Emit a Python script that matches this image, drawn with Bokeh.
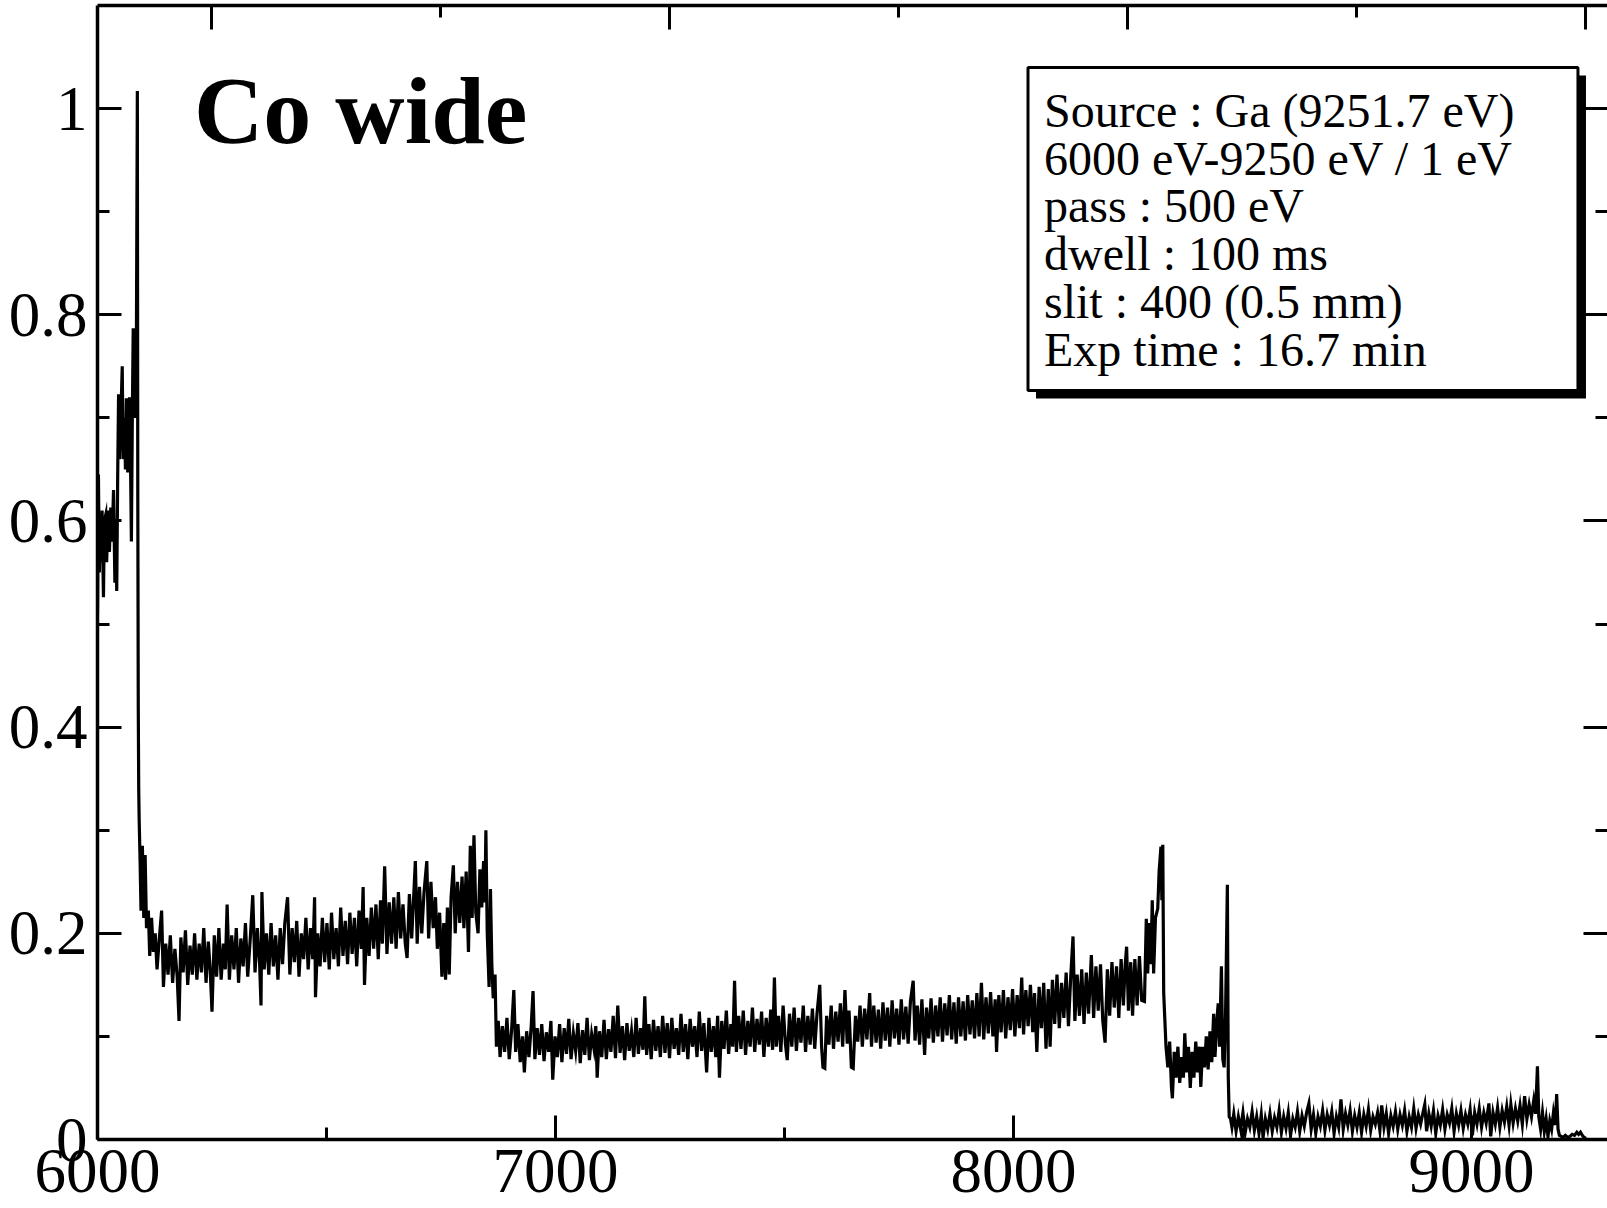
from bokeh.plotting import figure
from bokeh.models import (Range1d, FixedTicker, LinearAxis, BoxAnnotation, Label,
                          CustomJSTickFormatter, ColumnDataSource)
from bokeh.embed import file_html
from bokeh.resources import INLINE

FONT = "Liberation Serif"

# ---------------- data (energy eV, normalised intensity) ----------------
pre_edge = [(6000, 0.51), (6002, 0.645), (6004, 0.55), (6006, 0.60), (6008, 0.56), (6010, 0.61),
            (6013, 0.526), (6015, 0.60), (6018, 0.606), (6020, 0.56), (6023, 0.61), (6026, 0.57),
            (6029, 0.613), (6032, 0.58), (6035, 0.63), (6038, 0.54), (6040, 0.60), (6042, 0.532),
            (6044, 0.64), (6046, 0.723), (6048, 0.66), (6051, 0.70), (6054, 0.75), (6056, 0.66),
            (6059, 0.70), (6061, 0.65), (6063, 0.719), (6066, 0.647), (6068, 0.70), (6070, 0.72),
            (6072, 0.66), (6074, 0.58), (6076, 0.70), (6078, 0.787), (6080, 0.72), (6082, 0.70),
            (6085, 0.78), (6087, 1.017), (6088, 0.62), (6089, 0.42), (6090, 0.34), (6091, 0.31),
            (6093, 0.27), (6095, 0.222)]

band_6100_6870 = [(6098, 0.285), (6101, 0.215), (6104, 0.276), (6107, 0.205), (6111, 0.222),
                  (6114, 0.178), (6118, 0.215), (6122, 0.182), (6126, 0.20), (6130, 0.165),
                  (6135, 0.195), (6140, 0.222), (6144, 0.148), (6149, 0.19), (6154, 0.16),
                  (6159, 0.198), (6164, 0.152), (6169, 0.185), (6174, 0.158), (6178, 0.115),
                  (6182, 0.196), (6187, 0.162), (6192, 0.203), (6197, 0.15), (6202, 0.188),
                  (6207, 0.16), (6212, 0.20), (6217, 0.155), (6222, 0.19), (6227, 0.162),
                  (6232, 0.205), (6237, 0.152), (6242, 0.192), (6246, 0.165), (6250, 0.124),
                  (6255, 0.198), (6260, 0.158), (6265, 0.205), (6270, 0.155), (6275, 0.19),
                  (6279, 0.165), (6283, 0.228), (6288, 0.155), (6293, 0.198), (6298, 0.165),
                  (6303, 0.205), (6308, 0.152), (6313, 0.195), (6318, 0.168), (6323, 0.21),
                  (6328, 0.158), (6334, 0.198), (6339, 0.237), (6344, 0.162), (6349, 0.205),
                  (6354, 0.17), (6357, 0.13), (6359, 0.24), (6364, 0.165), (6369, 0.20),
                  (6374, 0.16), (6379, 0.21), (6384, 0.168), (6389, 0.198), (6394, 0.155),
                  (6399, 0.205), (6404, 0.17), (6409, 0.21), (6415, 0.235), (6420, 0.16),
                  (6425, 0.205), (6430, 0.172), (6435, 0.212), (6440, 0.158), (6445, 0.20),
                  (6450, 0.175), (6455, 0.215), (6460, 0.165), (6465, 0.205), (6470, 0.175),
                  (6474, 0.235), (6476, 0.138), (6481, 0.20), (6486, 0.168), (6491, 0.215),
                  (6496, 0.172), (6501, 0.21), (6506, 0.165), (6511, 0.22), (6516, 0.175),
                  (6521, 0.205), (6526, 0.168), (6531, 0.225), (6536, 0.178), (6541, 0.212),
                  (6546, 0.17), (6551, 0.22), (6556, 0.18), (6561, 0.215), (6566, 0.168),
                  (6571, 0.222), (6576, 0.185), (6580, 0.245), (6583, 0.15), (6588, 0.215),
                  (6593, 0.178), (6598, 0.225), (6603, 0.185), (6608, 0.228), (6613, 0.175),
                  (6618, 0.232), (6622, 0.19), (6627, 0.265), (6632, 0.18), (6637, 0.23),
                  (6642, 0.19), (6647, 0.235), (6652, 0.185), (6657, 0.24), (6662, 0.195),
                  (6667, 0.228), (6672, 0.19), (6676, 0.176), (6681, 0.238), (6686, 0.195),
                  (6690, 0.232), (6694, 0.27), (6698, 0.19), (6703, 0.245), (6708, 0.20),
                  (6713, 0.24), (6719, 0.27), (6723, 0.195), (6728, 0.25), (6733, 0.205),
                  (6738, 0.235), (6742, 0.185), (6747, 0.22), (6752, 0.158), (6756, 0.21),
                  (6760, 0.155), (6764, 0.225), (6768, 0.16), (6772, 0.235), (6777, 0.266),
                  (6781, 0.20), (6786, 0.25), (6791, 0.21), (6796, 0.255), (6800, 0.205),
                  (6805, 0.26), (6810, 0.182), (6814, 0.285), (6818, 0.215), (6822, 0.295),
                  (6826, 0.22), (6831, 0.20), (6835, 0.262), (6839, 0.225), (6843, 0.27),
                  (6846, 0.23), (6848, 0.30), (6851, 0.20), (6855, 0.148), (6858, 0.243),
                  (6861, 0.17), (6864, 0.137), (6868, 0.16), (6871, 0.09)]

band_6870_8335 = [(6875, 0.115), (6879, 0.08), (6884, 0.11), (6889, 0.085), (6894, 0.118),
                  (6899, 0.078), (6904, 0.105), (6909, 0.145), (6913, 0.085), (6918, 0.112),
                  (6923, 0.075), (6928, 0.10), (6932, 0.065), (6937, 0.105), (6942, 0.08),
                  (6947, 0.11), (6951, 0.144), (6955, 0.078), (6960, 0.108), (6965, 0.082),
                  (6970, 0.112), (6975, 0.076), (6980, 0.104), (6985, 0.085), (6990, 0.115),
                  (6994, 0.058), (6999, 0.10), (7004, 0.08), (7009, 0.112), (7014, 0.075),
                  (7019, 0.108), (7024, 0.083), (7029, 0.117), (7034, 0.078), (7039, 0.103),
                  (7044, 0.086), (7049, 0.113), (7054, 0.074), (7059, 0.106), (7064, 0.082),
                  (7069, 0.118), (7074, 0.077), (7079, 0.102), (7084, 0.088), (7088, 0.11),
                  (7091, 0.06), (7096, 0.105), (7101, 0.08), (7106, 0.116), (7111, 0.078),
                  (7116, 0.107), (7121, 0.085), (7126, 0.12), (7131, 0.079), (7136, 0.13),
                  (7141, 0.084), (7146, 0.11), (7151, 0.077), (7156, 0.113), (7161, 0.086),
                  (7166, 0.105), (7171, 0.08), (7176, 0.118), (7181, 0.083), (7186, 0.108),
                  (7191, 0.087), (7195, 0.139), (7199, 0.082), (7204, 0.112), (7209, 0.078),
                  (7214, 0.116), (7219, 0.086), (7224, 0.11), (7229, 0.08), (7234, 0.12),
                  (7239, 0.084), (7244, 0.113), (7249, 0.079), (7254, 0.118), (7259, 0.088),
                  (7264, 0.108), (7269, 0.082), (7274, 0.122), (7279, 0.085), (7284, 0.112),
                  (7289, 0.078), (7294, 0.117), (7299, 0.09), (7304, 0.11), (7309, 0.08),
                  (7314, 0.124), (7319, 0.086), (7324, 0.113), (7330, 0.065), (7335, 0.118),
                  (7340, 0.085), (7345, 0.11), (7350, 0.08), (7354, 0.12), (7358, 0.06),
                  (7363, 0.115), (7368, 0.088), (7373, 0.125), (7378, 0.083), (7383, 0.112),
                  (7387, 0.09), (7391, 0.154), (7395, 0.085), (7400, 0.12), (7405, 0.088),
                  (7410, 0.125), (7415, 0.082), (7420, 0.115), (7425, 0.09), (7430, 0.128),
                  (7435, 0.085), (7440, 0.117), (7445, 0.092), (7450, 0.124), (7455, 0.08),
                  (7460, 0.118), (7465, 0.09), (7470, 0.126), (7474, 0.087), (7478, 0.157),
                  (7482, 0.09), (7487, 0.12), (7492, 0.085), (7497, 0.13), (7502, 0.093),
                  (7506, 0.077), (7511, 0.122), (7516, 0.09), (7521, 0.128), (7526, 0.086),
                  (7531, 0.118), (7536, 0.094), (7541, 0.13), (7546, 0.085), (7551, 0.12),
                  (7556, 0.092), (7561, 0.127), (7566, 0.088), (7571, 0.122), (7577, 0.15),
                  (7581, 0.09), (7584, 0.07), (7588, 0.069), (7592, 0.12), (7597, 0.092),
                  (7602, 0.13), (7607, 0.088), (7612, 0.124), (7617, 0.095), (7622, 0.132),
                  (7627, 0.09), (7632, 0.145), (7637, 0.093), (7641, 0.125), (7646, 0.07),
                  (7650, 0.069), (7655, 0.12), (7660, 0.095), (7665, 0.13), (7670, 0.09),
                  (7675, 0.127), (7680, 0.097), (7686, 0.142), (7690, 0.09), (7695, 0.13),
                  (7700, 0.094), (7705, 0.126), (7710, 0.088), (7715, 0.133), (7720, 0.096),
                  (7725, 0.128), (7730, 0.09), (7735, 0.135), (7740, 0.098), (7745, 0.127),
                  (7750, 0.092), (7755, 0.136), (7760, 0.097), (7765, 0.129), (7770, 0.093),
                  (7775, 0.134), (7781, 0.154), (7785, 0.096), (7790, 0.13), (7795, 0.092),
                  (7800, 0.136), (7806, 0.082), (7810, 0.128), (7815, 0.098), (7820, 0.137),
                  (7825, 0.094), (7830, 0.13), (7835, 0.10), (7840, 0.138), (7845, 0.095),
                  (7850, 0.132), (7855, 0.101), (7860, 0.14), (7865, 0.097), (7870, 0.133),
                  (7875, 0.093), (7880, 0.138), (7885, 0.10), (7890, 0.134), (7895, 0.096),
                  (7900, 0.14), (7905, 0.102), (7910, 0.135), (7915, 0.098), (7920, 0.142),
                  (7925, 0.10), (7930, 0.152), (7935, 0.097), (7940, 0.138), (7945, 0.103),
                  (7950, 0.143), (7955, 0.10), (7960, 0.136), (7963, 0.085), (7968, 0.14),
                  (7973, 0.104), (7978, 0.145), (7983, 0.098), (7988, 0.138), (7993, 0.106),
                  (7998, 0.146), (8003, 0.10), (8008, 0.14), (8013, 0.108), (8018, 0.157),
                  (8022, 0.102), (8027, 0.145), (8032, 0.11), (8037, 0.15), (8042, 0.104),
                  (8046, 0.142), (8051, 0.085), (8056, 0.148), (8061, 0.108), (8066, 0.152),
                  (8071, 0.088), (8076, 0.146), (8080, 0.09), (8085, 0.155), (8090, 0.112),
                  (8095, 0.16), (8100, 0.108), (8105, 0.152), (8110, 0.118), (8115, 0.162),
                  (8120, 0.11), (8125, 0.158), (8130, 0.197), (8134, 0.115), (8139, 0.16),
                  (8144, 0.12), (8149, 0.165), (8154, 0.112), (8159, 0.162), (8164, 0.122),
                  (8170, 0.179), (8175, 0.118), (8180, 0.168), (8185, 0.125), (8190, 0.17),
                  (8195, 0.115), (8200, 0.094), (8205, 0.165), (8210, 0.12), (8215, 0.172),
                  (8220, 0.128), (8225, 0.168), (8230, 0.118), (8235, 0.175), (8240, 0.13),
                  (8244, 0.17), (8247, 0.187), (8251, 0.125), (8256, 0.172), (8260, 0.12),
                  (8265, 0.175), (8270, 0.13), (8275, 0.178), (8280, 0.135), (8286, 0.134),
                  (8290, 0.214), (8293, 0.161), (8297, 0.21), (8300, 0.17), (8303, 0.232),
                  (8306, 0.161), (8310, 0.215), (8315, 0.224), (8318, 0.26), (8322, 0.284),
                  (8324, 0.232), (8326, 0.286), (8328, 0.142), (8333, 0.09)]

band_8335_8472 = [(8337, 0.07), (8341, 0.095), (8345, 0.05), (8347, 0.04), (8351, 0.085),
                  (8355, 0.06), (8359, 0.09), (8363, 0.055), (8367, 0.08), (8371, 0.06),
                  (8374, 0.103), (8378, 0.065), (8382, 0.09), (8386, 0.05), (8390, 0.085),
                  (8394, 0.06), (8398, 0.095), (8402, 0.065), (8406, 0.09), (8409, 0.051),
                  (8413, 0.09), (8417, 0.07), (8421, 0.10), (8425, 0.068), (8429, 0.105),
                  (8433, 0.075), (8437, 0.122), (8440, 0.08), (8444, 0.115), (8447, 0.132),
                  (8450, 0.09), (8454, 0.168), (8457, 0.078), (8460, 0.07), (8463, 0.12),
                  (8467, 0.247), (8469, 0.06), (8471, 0.022)]

band_8472_9192 = [(8474, 0.02), (8477, 0.012), (8481, 0.025), (8486, 0.008), (8491, 0.022),
                  (8496, 0.01), (8501, 0.026), (8506, 0.007), (8511, 0.02), (8516, 0.012),
                  (8521, 0.027), (8526, 0.009), (8531, 0.022), (8536, 0.006), (8541, 0.024),
                  (8545, 0.002), (8550, 0.02), (8555, 0.01), (8560, 0.025), (8565, 0.008),
                  (8570, 0.021), (8575, 0.012), (8580, 0.028), (8585, 0.007), (8590, 0.022),
                  (8595, 0.011), (8600, 0.026), (8605, 0.004), (8610, 0.02), (8615, 0.012),
                  (8620, 0.027), (8625, 0.008), (8630, 0.023), (8635, 0.013), (8640, 0.026),
                  (8645, 0.035), (8650, 0.01), (8655, 0.024), (8660, 0.006), (8665, 0.022),
                  (8670, 0.013), (8675, 0.028), (8680, 0.009), (8685, 0.024), (8690, 0.014),
                  (8695, 0.027), (8700, 0.006), (8705, 0.022), (8710, 0.012), (8715, 0.039),
                  (8720, 0.01), (8725, 0.025), (8730, 0.014), (8735, 0.028), (8740, 0.008),
                  (8745, 0.023), (8750, 0.012), (8755, 0.026), (8760, 0.007), (8765, 0.024),
                  (8770, 0.013), (8775, 0.029), (8780, 0.009), (8785, 0.022), (8790, 0.015),
                  (8795, 0.026), (8800, 0.009), (8804, 0.033), (8809, 0.012), (8814, 0.025),
                  (8819, 0.006), (8824, 0.023), (8829, 0.013), (8834, 0.027), (8839, 0.01),
                  (8844, 0.024), (8849, 0.014), (8854, 0.028), (8859, 0.008), (8864, 0.022),
                  (8869, 0.012), (8874, 0.03), (8879, 0.011), (8884, 0.024), (8889, 0.015),
                  (8894, 0.026), (8898, 0.034), (8902, 0.008), (8907, 0.025), (8912, 0.013),
                  (8917, 0.028), (8922, 0.006), (8927, 0.023), (8932, 0.014), (8937, 0.029),
                  (8942, 0.01), (8947, 0.024), (8952, 0.016), (8957, 0.03), (8962, 0.008),
                  (8967, 0.025), (8972, 0.014), (8977, 0.028), (8982, 0.011), (8987, 0.024),
                  (8992, 0.015), (8997, 0.029), (9002, 0.004), (9007, 0.026), (9012, 0.015),
                  (9017, 0.03), (9022, 0.012), (9027, 0.026), (9032, 0.016), (9038, 0.035),
                  (9042, 0.003), (9047, 0.026), (9052, 0.015), (9057, 0.031), (9062, 0.012),
                  (9067, 0.028), (9072, 0.017), (9077, 0.032), (9082, 0.014), (9086, 0.034),
                  (9091, 0.016), (9096, 0.03), (9101, 0.018), (9106, 0.033), (9111, 0.015),
                  (9116, 0.042), (9121, 0.02), (9126, 0.034), (9131, 0.022), (9136, 0.038),
                  (9140, 0.025), (9144, 0.071), (9147, 0.022), (9151, 0.01), (9155, 0.026),
                  (9159, 0.008), (9163, 0.02), (9167, 0.003), (9171, 0.018), (9175, 0.01),
                  (9179, 0.026), (9183, 0.014), (9186, 0.044), (9189, 0.01), (9192, 0.004)]

tail = [(9196, 0.003), (9200, 0.002), (9205, 0.004), (9210, 0.002), (9215, 0.003), (9220, 0.005),
        (9225, 0.004), (9230, 0.007), (9234, 0.005), (9238, 0.007), (9242, 0.004), (9246, 0.002),
        (9250, 0.001)]

segments = [pre_edge, band_6100_6870, band_6870_8335, band_8335_8472, band_8472_9192, tail]
energy = [e for seg in segments for e, _ in seg]
intensity = [v for seg in segments for _, v in seg]

# axes ticks / texts
x_major = [6000, 7000, 8000, 9000]
x_minor = [6500, 7500, 8500]
top_major = [6250, 7250, 8250, 9250]
top_minor = [6750, 7750, 8750]
y_major = [0, 0.2, 0.4, 0.6, 0.8, 1.0]
y_minor = [0.1, 0.3, 0.5, 0.7, 0.9]
title_text = "Co wide"
info_lines = ["Source : Ga (9251.7 eV)", "6000 eV-9250 eV / 1 eV", "pass : 500 eV",
              "dwell : 100 ms", "slit : 400 (0.5 mm)", "Exp time : 16.7 min"]

# ---------------- figure ----------------
p = figure(width=1607, height=1208, x_range=Range1d(6000, 9297), y_range=Range1d(0, 1.1),
           output_backend="svg", toolbar_location=None,
           x_axis_location=None, y_axis_location=None,
           min_border_left=97, min_border_right=0, min_border_top=5, min_border_bottom=69)
p.grid.visible = False
p.outline_line_color = None
p.background_fill_color = "white"
p.border_fill_color = "white"


def style_axis(ax, major, minor, show_labels):
    ax.ticker = FixedTicker(ticks=major, minor_ticks=minor)
    ax.axis_line_color = "black"
    ax.axis_line_width = 3.5
    ax.major_tick_in = 24
    ax.major_tick_out = 0
    ax.minor_tick_in = 12
    ax.minor_tick_out = 0
    ax.major_tick_line_width = 3
    ax.minor_tick_line_width = 3
    ax.major_tick_line_color = "black"
    ax.minor_tick_line_color = "black"
    ax.major_label_text_font = FONT
    ax.major_label_text_color = "black"
    if show_labels:
        ax.major_label_text_font_size = "63px"
    else:
        ax.major_label_text_font_size = "0px"
        ax.formatter = CustomJSTickFormatter(code="return '';")
        ax.major_label_standoff = 0


bottom = LinearAxis()
style_axis(bottom, x_major, x_minor, True)
bottom.major_label_standoff = 10
p.add_layout(bottom, "below")

left = LinearAxis(formatter=CustomJSTickFormatter(code="return tick.toString();"))
style_axis(left, y_major, y_minor, True)
left.major_label_standoff = 10
p.add_layout(left, "left")

top = LinearAxis()
style_axis(top, top_major, top_minor, False)
p.add_layout(top, "above")

right = LinearAxis()
style_axis(right, y_major, y_minor, False)
right.axis_line_color = None
p.add_layout(right, "right")

src = ColumnDataSource(data=dict(energy=energy, intensity=intensity))
p.line("energy", "intensity", source=src, line_color="black", line_width=3.2, line_join="miter")

# title label
p.add_layout(Label(x=6210.7, y=0.9985, text=title_text, text_font=FONT, text_font_style="bold",
                   text_font_size="96px", text_color="black", text_baseline="alphabetic"))

# info box with shadow
p.add_layout(BoxAnnotation(left=8049.2, right=9250, top=1.0320, bottom=0.7187,
                           fill_color="black", fill_alpha=1.0, line_color=None))
p.add_layout(BoxAnnotation(left=8031.7, right=9232.5, top=1.0398, bottom=0.7265,
                           fill_color="white", fill_alpha=1.0, line_color="black",
                           line_alpha=1.0, line_width=3))
baselines = [0.9984, 0.9520, 0.9059, 0.8594, 0.8128, 0.7667]
for txt, yb in zip(info_lines, baselines):
    p.add_layout(Label(x=8066.6, y=yb, text=txt, text_font=FONT, text_font_size="48px",
                       text_color="black", text_baseline="alphabetic"))

open("out.html", "w").write(file_html(p, INLINE))
